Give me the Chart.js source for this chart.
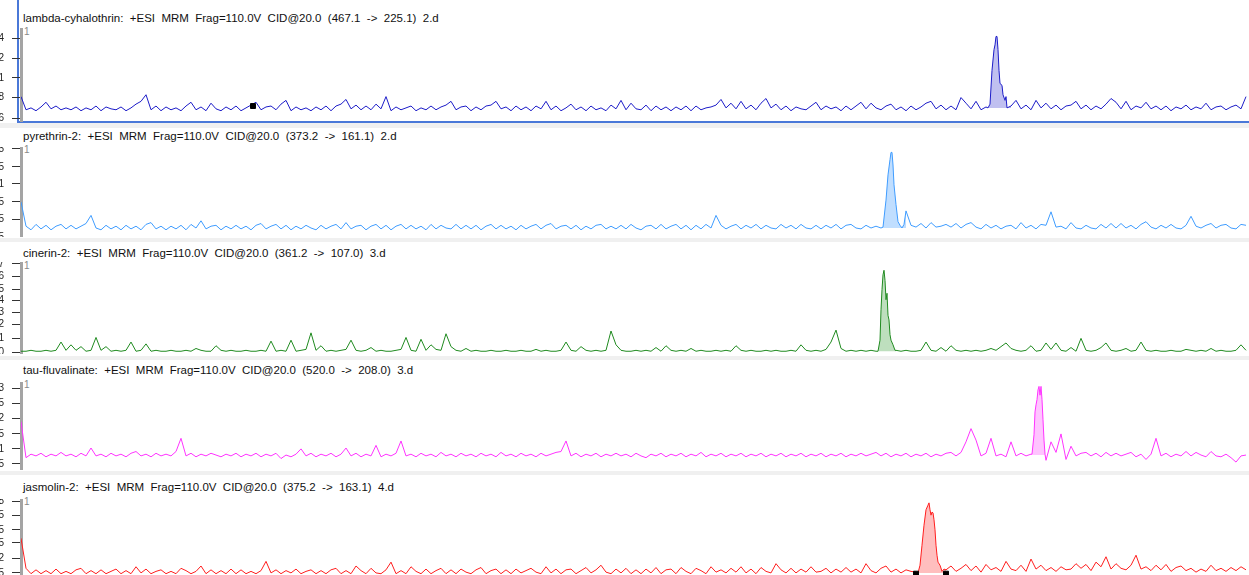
<!DOCTYPE html>
<html>
<head>
<meta charset="utf-8">
<script src="https://cdn.jsdelivr.net/npm/chart.js@4.4.1/dist/chart.umd.min.js"></script>
<style>
  html, body { margin: 0; padding: 0; width: 1249px; height: 575px; overflow: hidden; background: #fff;
    font-family: "Liberation Sans", Arial, sans-serif; }
  .band { position: absolute; left: 0; width: 1249px; background: #f0f0f0; }
  .title { position: absolute; left: 23px; font-size: 11.5px; line-height: 12px; color: #111; white-space: pre; }
  .scale1 { position: absolute; left: 24px; font-size: 10px; line-height: 10px; color: #8a8a8a; }
  .panel { position: absolute; left: -9px; width: 1258px; }
  .sel { position: absolute; background: #4a78d8; }
</style>
</head>
<body>
<script>
// Retention time of the first scan and the acquisition interval (min)
const scanStart = 0.0;
const scanStep = 0.05;

// ---- lambda-cyhalothrin (467.1 -> 225.1), relative abundance %
const lambdaCyhalothrin = [
  27,13,15,12,16,21,14,17,13,15, 13,16,12,15,13,17,12,16,14,13,
  16,12,15,19,22,29,13,17,12,16, 13,15,12,17,21,13,16,12,20,14,
  12,16,13,17,12,15,18,21,13,16, 17,13,19,23,12,16,13,15,12,16,
  13,17,12,17,19,24,14,18,13,17, 13,19,14,27,12,16,13,15,17,12,
  15,13,17,13,16,18,22,13,16,17, 12,16,13,17,18,22,14,16,12,17,
  13,16,12,17,14,22,13,17,12,15, 19,13,16,12,17,13,15,12,18,14,
  23,13,20,14,13,18,12,17,13,16, 12,16,13,17,12,17,13,15,16,18,
  24,15,20,14,22,14,18,13,20,25, 15,19,13,17,12,16,14,13,17,21,
  13,17,14,16,12,17,13,17,21,14, 20,15,13,17,19,13,16,12,17,13,
  16,20,22,14,18,13,17,13,26,20, 14,22,13,16,null,null,null,null,17,23,
  14,18,13,23,15,20,14,18,13,17, 18,22,14,18,13,17,14,19,25,21,
  14,22,13,17,15,21,14,17,13,17, 12,16,14,18,13,16,14,20,13,16,
  17,13,16,18,14,27
];
const lambdaPeakTime = [9.65,9.67,9.69,9.71,9.73,9.74,9.75,9.76,9.77,9.78,9.79,9.81,9.82,9.84,9.85,9.86,9.88,9.90];
const lambdaPeakAbund = [16,15,19,55,77,82,91,91,77,55,41,39,29,23,27,15,16,17];
const lambdaMarkTime = [2.32];
const lambdaMarkAbund = [17];

// ---- pyrethrin-2 (373.2 -> 161.1)
const pyrethrin2 = [
  39,12,8,14,9,13,8,12,14,9, 13,9,12,15,24,10,8,13,9,12,
  8,13,9,12,8,14,16,9,12,8, 12,9,13,8,14,10,18,9,12,13,
  8,12,9,13,9,12,8,13,15,9, 12,14,9,13,8,12,9,13,10,8,
  13,9,12,14,9,16,9,12,13,8, 12,14,9,13,8,12,14,9,13,9,
  12,8,14,9,13,10,9,14,9,13, 9,13,8,12,14,9,13,9,12,8,
  13,9,12,14,9,13,15,9,12,13, 9,13,8,12,9,13,14,9,12,9,
  13,9,14,10,8,12,13,9,14,9, 12,14,9,13,8,13,9,14,10,24,
  13,9,12,14,9,13,10,14,9,13, 10,9,14,10,13,9,14,10,9,13,
  9,13,10,14,9,13,14,10,9,13, 10,12,10,null,null,null,null,29,13,11,
  15,10,16,11,12,14,11,15,10,14, 16,11,9,14,10,13,9,12,13,9,
  16,10,13,9,14,13,28,11,12,9, 16,10,9,13,10,9,14,10,15,10,
  15,10,13,9,14,17,11,9,13,10, 14,10,9,13,23,12,10,13,15,10,
  13,14,10,9,14,13
];
const pyrethrinPeakTime = [8.60,8.62,8.65,8.67,8.69,8.70,8.71,8.72,8.73,8.75,8.77,8.79,8.81,8.83,8.85];
const pyrethrinPeakAbund = [10,11,41,69,86,94,94,80,58,36,17,13,10,14,29];

// ---- cinerin-2 (361.2 -> 107.0)
const cinerin2 = [
  3,3,4,3,3,4,3,4,13,4, 10,4,8,3,4,18,4,8,3,4,
  3,4,13,3,4,11,3,4,3,3, 4,3,3,4,3,6,4,3,3,9,
  4,3,4,3,3,4,3,3,4,3, 14,3,4,3,15,3,4,5,23,4,
  9,3,4,3,4,5,15,4,3,4, 7,3,4,3,3,4,5,18,4,3,
  16,4,10,5,4,22,8,4,3,6, 3,4,3,3,4,3,3,4,3,3,
  4,3,3,5,3,4,3,3,4,13, 4,3,8,4,3,4,3,4,25,10,
  4,3,3,4,3,4,3,7,3,9, 4,3,4,3,6,3,4,3,3,4,
  3,4,3,9,4,3,4,3,3,4, 3,4,3,3,4,3,10,4,3,4,
  3,5,13,26,6,3,4,3,4,3, 4,3,null,null,null,4,3,4,3,3,
  4,13,4,3,7,3,9,4,3,4, 3,4,3,4,6,4,8,12,6,4,
  3,4,9,3,4,12,5,12,4,3, 7,3,17,4,3,4,7,12,4,3,
  4,6,3,4,13,4,3,4,3,3, 4,3,3,5,4,3,4,3,6,3,
  4,3,3,4,10,4
];
const cinerinPeakTime = [8.55,8.57,8.59,8.60,8.61,8.62,8.63,8.64,8.65,8.66,8.67,8.68,8.69,8.70,8.72,8.74,8.75];
const cinerinPeakAbund = [3,3,15,48,70,86,91,80,59,66,42,37,21,15,10,4,4];

// ---- tau-fluvalinate (520.0 -> 208.0)
const tauFluvalinate = [
  55,14,18,16,19,15,18,16,20,16, 18,15,19,16,25,16,18,15,19,16,
  18,15,19,21,16,18,15,19,16,18, 16,21,36,16,19,15,18,16,19,17,
  15,18,16,19,15,18,16,19,15,18, 16,19,13,17,15,18,24,16,19,15,
  18,16,19,15,18,25,16,19,15,18, 16,28,15,18,16,19,33,16,18,15,
  19,16,18,15,20,16,18,15,19,16, 18,15,19,16,18,15,20,16,18,15,
  19,16,18,15,19,16,18,20,21,33, 16,19,15,18,16,19,15,18,16,19,
  16,18,15,19,16,14,18,16,19,15, 18,16,19,15,18,16,20,15,18,16,
  19,15,18,16,19,15,18,16,19,15, 18,16,19,15,18,16,19,15,18,16,
  19,15,18,16,19,15,18,16,19,16, 18,20,16,19,15,18,16,19,15,18,
  16,19,15,18,16,19,20,16,20,32, 47,34,16,19,36,16,18,15,32,16,
  19,16,18,null,null,11,32,20,41,12, 27,16,19,20,16,19,15,20,16,19,
  16,18,20,15,18,12,18,36,16,19, 15,18,16,21,16,20,17,15,21,16,
  15,18,14,9,16,17
];
const tauPeakTime = [10.10,10.11,10.13,10.14,10.15,10.16,10.17,10.18,10.19,10.20,10.21,10.22,10.23,10.24,10.25];
const tauPeakAbund = [18,18,40,66,74,80,91,95,85,95,80,57,34,18,11];

// ---- jasmolin-2 (375.2 -> 163.1)
const jasmolin2 = [
  49,10,3,8,3,7,3,9,3,6, 3,8,10,3,7,3,8,3,6,9,
  3,7,3,12,4,9,3,6,8,3, 6,3,10,7,3,6,13,3,8,3,
  7,3,9,3,8,3,6,3,7,19, 4,8,3,7,4,9,3,6,8,3,
  7,3,8,10,3,7,3,13,7,3, 10,4,3,8,18,3,7,3,12,6,
  3,9,3,7,10,3,8,3,9,5, 3,8,11,3,7,9,3,8,3,9,
  4,7,10,5,3,12,4,9,3,8, 9,3,7,11,4,8,14,5,3,9,
  4,10,3,8,3,9,4,11,3,8, 9,3,11,6,3,10,7,3,12,5,
  8,4,10,5,12,4,9,3,11,6, 4,16,8,4,10,4,9,5,12,5,
  6,10,4,9,5,11,5,9,4,16, 7,4,10,13,5,9,4,8,6,5,
  null,null,null,null,null,8,13,6,10,15, 7,13,5,15,8,11,6,19,9,7,
  14,6,22,9,14,7,11,6,12,8, 9,16,10,15,7,18,12,25,9,16,
  10,8,14,27,9,12,7,14,8,15, 6,11,13,7,10,5,9,6,14,7,
  10,6,11,7,12,8
];
const jasmolinPeakTime = [8.95,8.97,8.99,9.01,9.03,9.05,9.07,9.08,9.09,9.10,9.11,9.12,9.13,9.14,9.15,9.16,9.17,9.19,9.21,9.23,9.25];
const jasmolinPeakAbund = [5,4,14,40,66,86,92,95,86,79,83,82,73,60,40,27,18,14,6,9,8];
const jasmolinMarkTime = [8.95, 9.25];
const jasmolinMarkAbund = [3, 3];

// Chromatogram titles
const titles = [
  "lambda-cyhalothrin:  +ESI  MRM  Frag=110.0V  CID@20.0  (467.1  ->  225.1)  2.d",
  "pyrethrin-2:  +ESI  MRM  Frag=110.0V  CID@20.0  (373.2  ->  161.1)  2.d",
  "cinerin-2:  +ESI  MRM  Frag=110.0V  CID@20.0  (361.2  ->  107.0)  3.d",
  "tau-fluvalinate:  +ESI  MRM  Frag=110.0V  CID@20.0  (520.0  ->  208.0)  3.d",
  "jasmolin-2:  +ESI  MRM  Frag=110.0V  CID@20.0  (375.2  ->  163.1)  4.d"
];

// Y-axis tick values (%) and their labels per panel
const ticks1 = [89, 68, 47, 26, 4];
const ticks2 = [98, 78, 59, 39, 20, 0];
const ticks3 = [98, 84, 70, 58, 45, 32, 17, 2];
const ticks4 = [93, 76, 59, 41, 24, 7];
const ticks5 = [97, 79, 60, 43, 23, 4];
const tickLabels1 = ["1.4", "1.2", "1", "0.8", "0.6"];
const tickLabels2 = ["1.5", "1.25", "1", "0.75", "0.5", "0.25"];
const tickLabels3 = ["7", "6", "5", "4", "3", "2", "1", "0"];
const tickLabels4 = ["3", "2.5", "2", "1.5", "1", "0.5"];
const tickLabels5 = ["8", "6.5", "5", "3.5", "2", "0.5"];

// Panel layout: plot top / height in the page, title row, separator bands
const panels = [
  { trace: lambdaCyhalothrin, pt: lambdaPeakTime, pa: lambdaPeakAbund, base: 15,
    mt: lambdaMarkTime, ma: lambdaMarkAbund, ticks: ticks1, labels: tickLabels1,
    line: "#1c1cc8", fill: "rgba(90,90,215,0.38)", top: 28, h: 94, titleY: 12, oneY: 27 },
  { trace: pyrethrin2, pt: pyrethrinPeakTime, pa: pyrethrinPeakAbund, base: 10,
    mt: [], ma: [], ticks: ticks2, labels: tickLabels2,
    line: "#3f9cff", fill: "rgba(63,156,255,0.33)", top: 147, h: 90, titleY: 130, oneY: 145 },
  { trace: cinerin2, pt: cinerinPeakTime, pa: cinerinPeakAbund, base: 3,
    mt: [], ma: [], ticks: ticks3, labels: tickLabels3,
    line: "#1f8a1f", fill: "rgba(40,150,40,0.30)", top: 262, h: 92, titleY: 247, oneY: 261 },
  { trace: tauFluvalinate, pt: tauPeakTime, pa: tauPeakAbund, base: 17,
    mt: [], ma: [], ticks: ticks4, labels: tickLabels4,
    line: "#ff33ff", fill: "rgba(255,70,255,0.32)", top: 382, h: 88, titleY: 364, oneY: 380 },
  { trace: jasmolin2, pt: jasmolinPeakTime, pa: jasmolinPeakAbund, base: 4,
    mt: jasmolinMarkTime, ma: jasmolinMarkAbund, ticks: ticks5, labels: tickLabels5,
    line: "#ff1e1e", fill: "rgba(255,70,70,0.35)", top: 499, h: 77, titleY: 481, oneY: 497 }
];
const bands = [[123, 5], [238, 4], [356, 4], [471, 4]];

function addDiv(cls, css, text) {
  const d = document.createElement("div");
  d.className = cls;
  Object.assign(d.style, css);
  if (text !== undefined) d.textContent = text;
  document.body.appendChild(d);
  return d;
}

bands.forEach(([y, h]) => addDiv("band", { top: y + "px", height: h + "px" }));
// selection frame around the first chromatogram
addDiv("sel", { left: "17px", top: "0px", width: "2px", height: "123px" });
addDiv("sel", { left: "17px", top: "121px", width: "1232px", height: "2px" });

panels.forEach((p, k) => {
  addDiv("title", { top: p.titleY + "px" }, titles[k]);
  addDiv("scale1", { top: p.oneY + "px" }, "1");

  const holder = addDiv("panel", { top: p.top + "px", height: p.h + "px" });
  const cv = document.createElement("canvas");
  cv.width = 1258; cv.height = p.h;
  holder.appendChild(cv);

  const tracePts = p.trace.map((v, i) => ({ x: scanStart + i * scanStep, y: v }));
  const peakPts = p.pt.map((t, i) => ({ x: t, y: p.pa[i] }));
  const markPts = p.mt.map((t, i) => ({ x: t, y: p.ma[i] }));

  new Chart(cv, {
    type: "line",
    data: {
      datasets: [
        { data: markPts, showLine: false, pointStyle: "rect", pointRadius: 3.5,
          pointBackgroundColor: "#000", pointBorderColor: "#000", order: 0 },
        { data: peakPts, borderColor: p.line, borderWidth: 1, pointRadius: 0,
          backgroundColor: p.fill, fill: { value: p.base }, order: 1 },
        { data: tracePts, borderColor: p.line, borderWidth: 1, pointRadius: 0,
          fill: false, spanGaps: false, order: 2 }
      ]
    },
    options: {
      responsive: false, animation: false, devicePixelRatio: 1,
      layout: { padding: 0, autoPadding: false },
      plugins: { legend: { display: false }, tooltip: { enabled: false }, title: { display: false } },
      elements: { line: { tension: 0 } },
      scales: {
        x: { type: "linear", min: 0, max: 12.28, display: false },
        y: {
          min: 0, max: 100,
          afterFit: s => { s.width = 30; s.paddingTop = 0; s.paddingBottom = 0; },
          afterBuildTicks: s => { s.ticks = p.ticks.map(v => ({ value: v })); },
          ticks: { autoSkip: false, padding: 8, font: { size: 10, family: "Liberation Sans" }, color: "#222",
            callback: (v, i) => p.labels[i] },
          grid: { drawOnChartArea: false, drawTicks: true, tickLength: 9, tickColor: "#333" },
          border: { color: "#a4a4a4", width: 3 }
        }
      }
    }
  });
});
</script>
</body>
</html>
